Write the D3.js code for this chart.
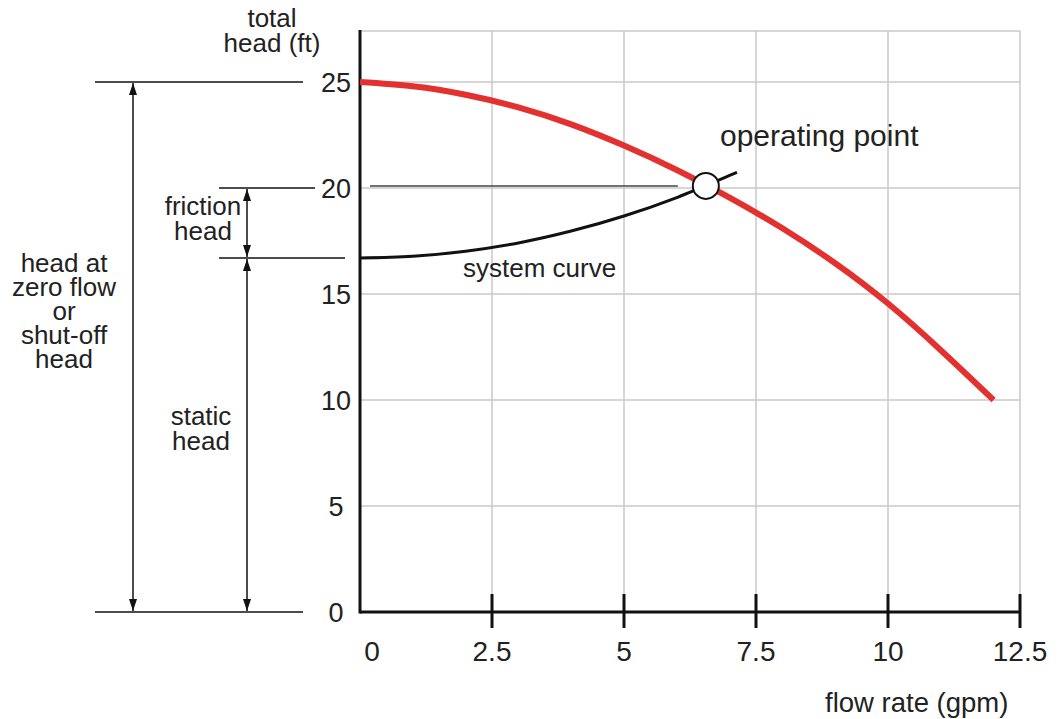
<!DOCTYPE html>
<html>
<head>
<meta charset="utf-8">
<script src="https://cdn.jsdelivr.net/npm/d3@7"></script>
<style>
  html, body { margin: 0; padding: 0; background: #fff; }
  svg { display: block; }
  text { font-family: "Liberation Sans", Arial, sans-serif; fill: #222; }
</style>
</head>
<body>
<svg id="chart" width="1058" height="719"></svg>
<script>
// ---- data ----
const xTicks = [2.5, 5, 7.5, 10, 12.5];
const xTickLabels = ["0", "2.5", "5", "7.5", "10", "12.5"];
const xLabelValues = [0, 2.5, 5, 7.5, 10, 12.5];
const yTicks = [0, 5, 10, 15, 20, 25];
const yTickLabels = ["0", "5", "10", "15", "20", "25"];
const pumpFlow = [0, 1, 2, 3, 4, 5, 6, 7, 8, 9, 10, 11, 12];
const pumpHead = [25.0, 24.8, 24.4, 23.8, 23.0, 22.0, 20.85, 19.55, 18.1, 16.45, 14.55, 12.35, 10.0];
const systemFlow = [0, 1, 2, 3, 4, 5, 6, 7, 7.14];
const systemHead = [16.7, 16.78, 17.02, 17.41, 17.97, 18.68, 19.55, 20.59, 20.74];
const operatingPoint = [6.55, 20.1];
const shutOffHead = 25;
const staticHead = 16.7;
const yTop = 27.4;

// ---- scales ----
const svg = d3.select("#chart");
svg.append("rect").attr("width", 1058).attr("height", 719).attr("fill", "#fff");
const x = d3.scaleLinear().domain([0, 12.5]).range([360, 1020]);
const y = d3.scaleLinear().domain([0, 25]).range([612, 82]);

// markers
const defs = svg.append("defs");
["start", "end"].forEach(k => {
  defs.append("marker")
    .attr("id", "arrow-" + k)
    .attr("markerUnits", "userSpaceOnUse")
    .attr("viewBox", "0 0 12 8")
    .attr("refX", k === "end" ? 12 : 0).attr("refY", 4)
    .attr("markerWidth", 12).attr("markerHeight", 8)
    .attr("orient", "auto")
    .append("path")
    .attr("d", k === "end" ? "M0,0 L12,4 L0,8 Z" : "M12,0 L0,4 L12,8 Z")
    .attr("fill", "#111");
});

// ---- grid ----
const grid = svg.append("g").attr("stroke", "#c9c9c9").attr("stroke-width", 1.5);
xTicks.forEach(v => grid.append("line")
  .attr("x1", x(v)).attr("x2", x(v)).attr("y1", y(yTop)).attr("y2", y(0)));
yTicks.filter(v => v > 0).concat([yTop]).forEach(v => grid.append("line")
  .attr("x1", x(0)).attr("x2", x(12.5)).attr("y1", y(v)).attr("y2", y(v)));

// ---- axes ----
const xAxis = d3.axisBottom(x).tickValues(xTicks).tickSize(0).tickFormat("");
const gx = svg.append("g").attr("transform", `translate(0,${y(0)})`).call(xAxis);
gx.select(".domain").attr("stroke", "#111").attr("stroke-width", 3).attr("d", `M${x(0)},0H${x(12.5)}`);
gx.selectAll(".tick line").remove();
xTicks.forEach(v => gx.append("line")
  .attr("x1", x(v)).attr("x2", x(v)).attr("y1", -18).attr("y2", 16)
  .attr("stroke", "#111").attr("stroke-width", 3));

svg.append("line").attr("x1", x(0)).attr("x2", x(0))
  .attr("y1", y(yTop) - 1).attr("y2", y(0) + 1.5)
  .attr("stroke", "#111").attr("stroke-width", 3);

// x tick labels
xLabelValues.forEach((v, i) => svg.append("text")
  .attr("x", x(v) + (v === 0 ? 12 : 0)).attr("y", 661)
  .attr("text-anchor", "middle").attr("font-size", 28)
  .text(xTickLabels[i]));

// y tick labels
yTicks.forEach((v, i) => svg.append("text")
  .attr("x", 336).attr("y", y(v) + 10)
  .attr("text-anchor", "middle").attr("font-size", 27)
  .text(yTickLabels[i]));

// ---- annotation lines ----
const ann = svg.append("g").attr("stroke", "#111").attr("stroke-width", 1.5);
ann.append("line").attr("x1", 95).attr("x2", 303).attr("y1", y(shutOffHead)).attr("y2", y(shutOffHead));
ann.append("line").attr("x1", 219).attr("x2", 315).attr("y1", y(20)).attr("y2", y(20));
ann.append("line").attr("x1", 219).attr("x2", 345).attr("y1", y(staticHead)).attr("y2", y(staticHead));
ann.append("line").attr("x1", 95).attr("x2", 303).attr("y1", y(0)).attr("y2", y(0));

// arrows
const arr = svg.append("g").attr("stroke", "#111").attr("stroke-width", 1.5)
  .attr("marker-start", "url(#arrow-start)").attr("marker-end", "url(#arrow-end)");
arr.append("line").attr("x1", 133).attr("x2", 133).attr("y1", y(shutOffHead) + 1).attr("y2", y(0) - 1);
arr.append("line").attr("x1", 247).attr("x2", 247).attr("y1", y(20) + 1).attr("y2", y(staticHead) - 1);
arr.append("line").attr("x1", 247).attr("x2", 247).attr("y1", y(staticHead) + 1).attr("y2", y(0) - 1);

// horizontal line from operating point
svg.append("line")
  .attr("x1", 370).attr("x2", x(operatingPoint[0]) - 28)
  .attr("y1", y(operatingPoint[1])).attr("y2", y(operatingPoint[1]))
  .attr("stroke", "#444").attr("stroke-width", 1.5);

// ---- curves ----
const sysLine = d3.line().x(d => x(d[0])).y(d => y(d[1])).curve(d3.curveMonotoneX);
const pumpLine = d3.line().x(d => x(d[0])).y(d => y(d[1])).curve(d3.curveNatural);
svg.append("path")
  .datum(systemFlow.map((q, i) => [q, systemHead[i]]))
  .attr("d", sysLine).attr("fill", "none").attr("stroke", "#111").attr("stroke-width", 3);
svg.append("path")
  .datum(pumpFlow.map((q, i) => [q, pumpHead[i]]))
  .attr("d", pumpLine).attr("fill", "none").attr("stroke", "#e2312f").attr("stroke-width", 6);

svg.append("circle")
  .attr("cx", x(operatingPoint[0])).attr("cy", y(operatingPoint[1])).attr("r", 13)
  .attr("fill", "#fff").attr("stroke", "#111").attr("stroke-width", 2);

// ---- text labels ----
function multi(lines, cx, y0, dy, size) {
  lines.forEach((t, i) => svg.append("text")
    .attr("x", cx).attr("y", y0 + i * dy).attr("text-anchor", "middle")
    .attr("font-size", size).text(t));
}
multi(["total", "head (ft)"], 272, 27, 25, 26);
multi(["friction", "head"], 203, 215, 25, 26);
multi(["static", "head"], 201, 425, 25, 26);
multi(["head at", "zero flow", "or", "shut-off", "head"], 64, 272, 24, 26);

svg.append("text").attr("x", 720).attr("y", 146).attr("font-size", 30).text("operating point");
svg.append("text").attr("x", 463).attr("y", 277).attr("font-size", 26).text("system curve");
svg.append("text").attr("x", 825).attr("y", 712).attr("font-size", 27.5).text("flow rate (gpm)");
</script>
</body>
</html>
